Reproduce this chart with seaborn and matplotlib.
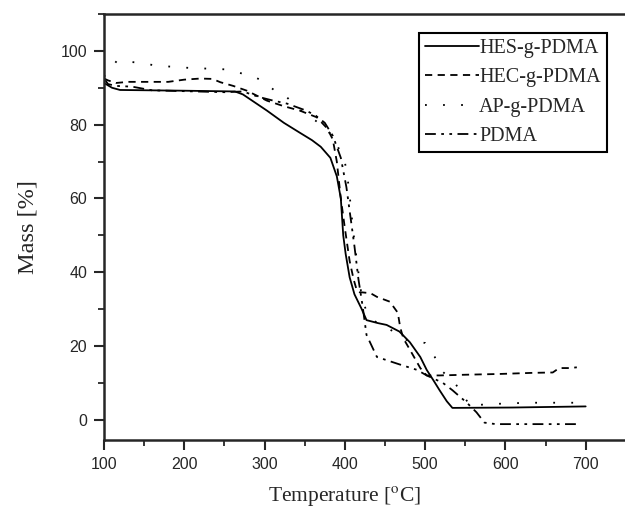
import pandas as pd
import seaborn as sns
import matplotlib.pyplot as plt
from matplotlib.ticker import MultipleLocator

# TGA curves
hes_t = [100, 110, 120, 200, 263, 273, 288, 303, 324, 344, 359, 370, 382, 390, 395,
         398, 401, 406, 412, 421, 427, 441, 452, 468, 481, 494, 502, 510, 518, 527,
         534, 609, 639, 700]
hes_m = [91.3, 90.0, 89.4, 89.2, 89.0, 88.2, 86.0, 83.8, 80.5, 77.8, 75.8, 74.0, 71.0,
         66.0, 60.0, 50.0, 45.0, 38.6, 34.0, 30.0, 27.0, 26.2, 25.7, 23.9, 21.0, 17.0,
         13.5, 10.8, 8.0, 5.0, 3.2, 3.3, 3.4, 3.6]

hec_t = [100, 105, 115, 130, 180, 200, 220, 235, 245, 261, 278, 303, 324, 344, 365,
         378, 385, 390, 395, 400, 406, 411, 415, 418, 432, 440, 456, 466, 469, 473,
         481, 494, 502, 518, 552, 593, 634, 659, 667, 680, 689]
hec_m = [92.5, 92.0, 91.3, 91.6, 91.6, 92.2, 92.5, 92.4, 91.5, 90.5, 89.2, 86.5, 85.0,
         83.8, 82.0, 79.0, 76.0, 70.0, 60.0, 52.0, 43.0, 38.0, 35.0, 34.6, 34.3, 33.3,
         32.0, 29.0, 25.0, 22.0, 19.0, 14.0, 12.0, 12.0, 12.2, 12.4, 12.7, 12.8, 14.0,
         14.0, 14.2]

ap_t = [100, 116, 144, 165, 205, 250, 285, 296, 316, 326, 344, 364, 385, 400, 405,
        410, 415, 420, 427, 441, 456, 477, 500, 512, 522, 537, 556, 578, 627, 700]
ap_m = [93.0, 97.3, 96.8, 96.0, 95.4, 95.0, 93.2, 92.0, 88.7, 87.8, 84.0, 81.0, 77.0,
        70.0, 63.0, 52.0, 43.0, 35.0, 29.0, 26.0, 24.5, 21.6, 20.8, 17.0, 13.0, 10.0,
        3.8, 4.2, 4.6, 4.6]

pdma_t = [100, 105, 115, 135, 160, 250, 273, 293, 311, 328, 352, 364, 375, 385, 395,
          402, 407, 412, 417, 422, 427, 440, 468, 490, 502, 522, 534, 552, 564, 574,
          588, 689]
pdma_m = [92.5, 91.0, 90.5, 90.3, 89.3, 88.8, 89.0, 87.5, 86.5, 85.7, 83.8, 82.4, 80.5,
          77.0, 71.0, 63.0, 55.0, 47.0, 38.0, 31.0, 23.0, 17.0, 15.0, 13.5, 12.0, 10.0,
          8.0, 4.6, 2.0, -0.8, -1.2, -1.2]

series = [
    ("HES-g-PDMA", hes_t, hes_m, "-"),
    ("HEC-g-PDMA", hec_t, hec_m, (0, (4, 3))),
    ("AP-g-PDMA", ap_t, ap_m, (0, (1, 9))),
    ("PDMA", pdma_t, pdma_m, (0, (6, 3, 1.5, 3, 1.5, 3))),
]

sns.set_style("ticks")
plt.rcParams["mathtext.fontset"] = "stix"

fig = plt.figure(figsize=(6.25, 5.09), dpi=100)
ax = fig.add_axes([0.1664, 0.1356, 0.8336, 0.8369])

for name, t, m, ls in series:
    df = pd.DataFrame({"T": t, "mass": m})
    sns.lineplot(data=df, x="T", y="mass", color="black", linestyle=ls,
                 linewidth=1.3, label=name, ax=ax)

ax.set_xlim(100, 749)
ax.set_ylim(-5.5, 110)
ax.xaxis.set_major_locator(MultipleLocator(100))
ax.xaxis.set_minor_locator(MultipleLocator(50))
ax.yaxis.set_major_locator(MultipleLocator(20))
ax.yaxis.set_minor_locator(MultipleLocator(10))

for s in ["left", "bottom", "top"]:
    ax.spines[s].set_linewidth(1.8)
ax.spines["right"].set_visible(False)

ax.tick_params(which="major", direction="out", length=7, width=1.5,
               labelsize=11.5, pad=5)
ax.tick_params(which="minor", direction="out", length=4, width=1.3)
for lab in ax.get_xticklabels() + ax.get_yticklabels():
    lab.set_fontfamily("Liberation Sans")

ax.set_xlabel(r"Temperature [$^{\mathrm{o}}$C]", family="Liberation Serif",
              fontsize=15.5)
ax.xaxis.set_label_coords(0.4626, -0.103)
ax.set_ylabel("Mass [%]", family="Liberation Serif", fontsize=17.5, labelpad=16)

leg = ax.legend(loc="upper right", bbox_to_anchor=(0.965, 0.955),
                borderaxespad=0, borderpad=0.3, handletextpad=0,
                handlelength=2.7, labelspacing=0.5, fancybox=False,
                framealpha=1, edgecolor="black",
                prop={"family": "Liberation Serif", "size": 14.5})
leg.get_frame().set_linewidth(1.5)

plt.savefig("out.png", dpi=100)
